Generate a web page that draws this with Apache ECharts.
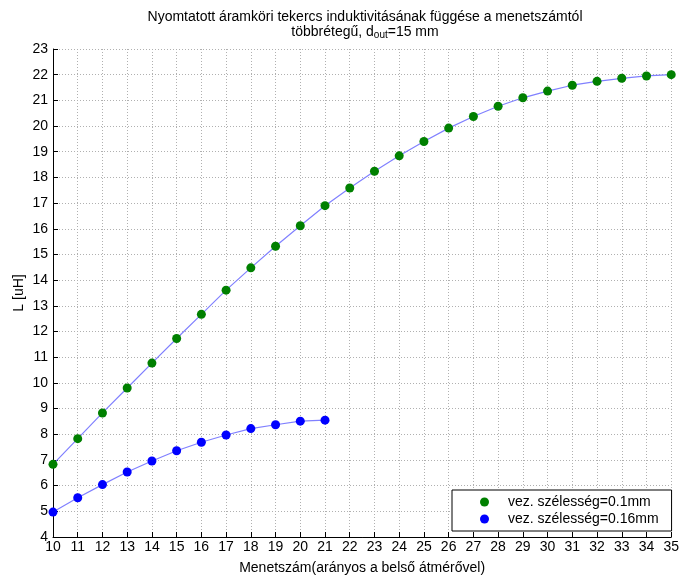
<!DOCTYPE html>
<html>
<head>
<meta charset="utf-8">
<script src="https://cdn.jsdelivr.net/npm/echarts@6/dist/echarts.min.js"></script>
<style>html,body{margin:0;padding:0;background:#fff}#c{width:682px;height:580px}</style>
</head>
<body>
<div id="c"></div>
<script>
const turnsA = [10,11,12,13,14,15,16,17,18,19,20,21,22,23,24,25,26,27,28,29,30,31,32,33,34,35];
const valuesA = [6.83,7.83,8.83,9.80,10.77,11.73,12.67,13.61,14.48,15.32,16.12,16.90,17.59,18.24,18.84,19.40,19.92,20.37,20.77,21.10,21.36,21.59,21.74,21.86,21.95,22.00];
const turnsB = [10,11,12,13,14,15,16,17,18,19,20,21];
const valuesB = [4.97,5.53,6.04,6.53,6.96,7.36,7.69,7.97,8.22,8.37,8.51,8.55];
const nameA = 'vez. szélesség=0.1mm';
const nameB = 'vez. szélesség=0.16mm';
const FONT = "'Liberation Sans', Arial, sans-serif";

const chart = echarts.init(document.getElementById('c'), null, {renderer:'canvas'});
const pairs = (xs, ys) => xs.map((x,i)=>[x, ys[i]]);
chart.setOption({
  animation:false,
  backgroundColor:'#fff',
  title:{
    text:'{a|Nyomtatott áramköri tekercs induktivitásának függése a menetszámtól}\n{a|többrétegű, d}{s|out}{a|=15 mm}',
    left:360, top:5, textAlign:'center',
    textStyle:{
      fontWeight:'normal',
      rich:{
        a:{fontFamily:FONT, fontSize:14, fontWeight:'normal', color:'#000', lineHeight:15},
        s:{fontFamily:FONT, fontSize:10, fontWeight:'normal', color:'#000', verticalAlign:'bottom', padding:[7,0,0,0], lineHeight:15}
      }
    }
  },
  grid:{left:53, right:9, top:49, bottom:42},
  xAxis:{
    type:'value', min:10, max:35, interval:1,
    name:'Menetszám(arányos a belső átmérővel)', nameLocation:'middle', nameGap:24,
    nameTextStyle:{fontFamily:FONT, fontSize:14, color:'#000'},
    axisLine:{show:true, lineStyle:{color:'#000', width:1}},
    axisTick:{inside:true, length:5, lineStyle:{color:'#000'}},
    axisLabel:{fontFamily:FONT, fontSize:14, color:'#000', margin:3},
    splitLine:{show:true, lineStyle:{color:'#b0b0b0', type:[1,2], width:1}}
  },
  yAxis:{
    type:'value', min:4, max:23, interval:1,
    name:'L [uH]', nameLocation:'middle', nameGap:27, nameRotate:90, nameMoveOverlap:false,
    nameTextStyle:{fontFamily:FONT, fontSize:14, color:'#000'},
    axisLine:{show:true, lineStyle:{color:'#000', width:1}},
    axisTick:{inside:true, length:5, lineStyle:{color:'#000'}},
    axisLabel:{fontFamily:FONT, fontSize:14, color:'#000', margin:5},
    splitLine:{show:true, lineStyle:{color:'#b0b0b0', type:[1,2], width:1}}
  },
  legend:{
    orient:'vertical', left:452, top:490,
    backgroundColor:'#fff', borderColor:'#000', borderWidth:1, borderRadius:0,
    padding:[5,13,5,28], itemGap:3, itemWidth:9, itemHeight:9,
    textStyle:{fontFamily:FONT, fontSize:14, color:'#000', padding:[0,0,0,14]},
    data:[
      {name:nameA, icon:'circle', itemStyle:{color:'#008000'}},
      {name:nameB, icon:'circle', itemStyle:{color:'#0000ff'}}
    ]
  },
  series:[
    {
      name:nameA, type:'line', data:pairs(turnsA, valuesA),
      symbol:'circle', symbolSize:9, showAllSymbol:true,
      lineStyle:{color:'#8080ff', width:1.2},
      itemStyle:{color:'#008000', borderWidth:0}
    },
    {
      name:nameB, type:'line', data:pairs(turnsB, valuesB),
      symbol:'circle', symbolSize:9, showAllSymbol:true,
      lineStyle:{color:'#8080ff', width:1.2},
      itemStyle:{color:'#0000ff', borderWidth:0}
    }
  ]
});
</script>
</body>
</html>
